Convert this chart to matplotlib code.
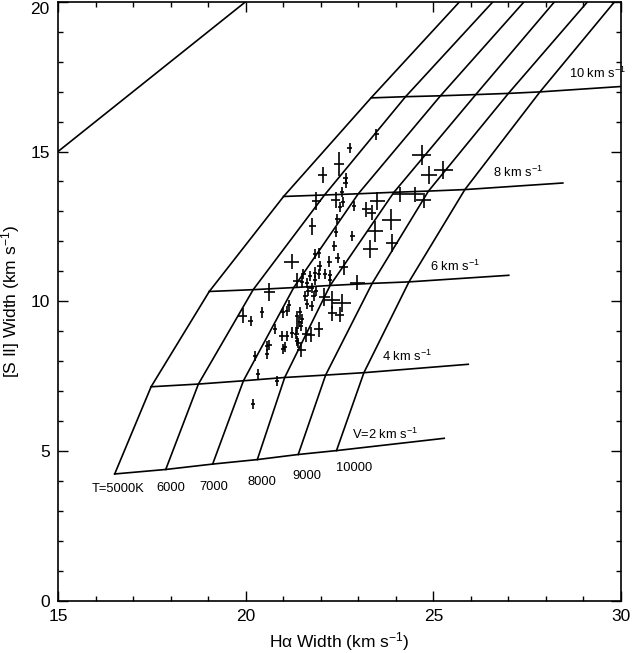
import matplotlib
matplotlib.use("Agg")
import matplotlib.pyplot as plt
import matplotlib.transforms as mtransforms
from matplotlib.ticker import MultipleLocator, FixedLocator

plt.rcParams['font.family'] = ['Liberation Sans', 'DejaVu Sans']
plt.rcParams['mathtext.default'] = 'regular'

# ---- model grid ----
temps = [5000, 6000, 7000, 8000, 9000, 10000]
temp_labels = ["T=5000K", "6000", "7000", "8000", "9000", "10000"]
vel_labels = ["V=2 km s$^{-1}$", "4 km s$^{-1}$", "6 km s$^{-1}$", "8 km s$^{-1}$", "10 km s$^{-1}$"]

ha_v2 = [16.51, 17.87, 19.12, 20.31, 21.40, 22.42]
s2_v2 = [4.24, 4.39, 4.57, 4.72, 4.89, 5.02]
ha_v4 = [17.48, 18.74, 19.94, 21.04, 22.13, 23.15]
s2_v4 = [7.15, 7.24, 7.35, 7.46, 7.54, 7.62]
ha_v6 = [19.03, 20.20, 21.28, 22.25, 23.37, 24.35]
s2_v6 = [10.33, 10.39, 10.46, 10.53, 10.60, 10.65]
ha_v8 = [21.01, 22.10, 23.00, 23.95, 24.87, 25.84]
s2_v8 = [13.50, 13.55, 13.59, 13.64, 13.68, 13.73]
ha_v10 = [23.34, 24.26, 25.19, 26.13, 27.00, 27.84]
s2_v10 = [16.79, 16.83, 16.86, 16.90, 16.94, 16.99]
ha_top = [25.70, 26.59, 27.42, 28.23, 29.11, 29.83]
s2_top = [20.0, 20.0, 20.0, 20.0, 20.0, 20.0]

v_end_ha = [25.29, 25.93, 27.01, 28.45, 30.00]
v_end_s2 = [5.43, 7.90, 10.87, 13.95, 17.17]

# one-to-one line
eq_x = [15, 20]
eq_y = [15, 20]

# ---- label positions ----
temp_lab_x = [16.60, 18.01, 19.16, 20.44, 21.63, 22.88]
temp_lab_y = [3.73, 3.76, 3.80, 3.97, 4.16, 4.44]
vel_lab_x = [22.84, 23.63, 24.92, 26.58, 28.61]
vel_lab_y = [5.55, 8.15, 11.18, 14.32, 17.62]

# ---- observed widths ----
ha_obs = [23.48, 22.77, 22.49, 22.05, 22.66, 22.66, 22.56, 21.88, 22.40, 22.59,
          22.51, 22.89, 23.21, 21.78, 22.44, 22.41, 22.84, 22.36, 24.69, 24.88,
          25.27, 24.12, 24.52, 24.74, 23.51, 23.36, 23.88, 23.45, 23.90, 23.32,
          21.23, 21.85, 21.95, 22.45, 22.23, 21.97, 22.61, 21.54, 21.72, 21.85,
          21.95, 22.11, 22.24, 22.25, 21.85, 21.63, 21.50, 21.37, 22.97, 20.63,
          21.67, 21.76, 21.88, 21.59, 21.81, 22.10, 22.30, 22.56, 21.63, 21.76,
          21.15, 22.30, 22.50, 21.45, 21.37, 21.50, 21.41, 21.47, 21.37, 21.00,
          21.11, 20.43, 19.92, 20.13, 21.95, 20.78, 20.96, 21.09, 21.23, 21.35,
          21.61, 21.74, 21.37, 21.39, 21.00, 21.05, 21.48, 20.57, 20.63, 20.57,
          20.25, 20.33, 20.83, 20.20]
s2_obs = [15.57, 15.12, 14.59, 14.21, 14.12, 13.94, 13.65, 13.34, 13.38, 13.31,
          13.14, 13.17, 13.07, 12.51, 12.76, 12.31, 12.18, 11.85, 14.89, 14.23,
          14.37, 13.57, 13.57, 13.38, 13.34, 12.96, 12.73, 12.34, 11.96, 11.74,
          11.33, 11.57, 11.62, 11.46, 11.33, 11.19, 11.13, 10.90, 10.85, 10.96,
          10.90, 10.90, 10.88, 10.70, 10.70, 10.62, 10.66, 10.68, 10.62, 10.30,
          10.35, 10.45, 10.35, 10.18, 10.18, 10.15, 10.04, 9.96, 9.90, 9.85,
          9.88, 9.60, 9.55, 9.63, 9.52, 9.41, 9.30, 9.18, 9.11, 9.63,
          9.69, 9.63, 9.52, 9.35, 9.07, 9.07, 8.85, 8.85, 8.96, 8.90,
          8.90, 8.88, 8.69, 8.60, 8.41, 8.47, 8.38, 8.52, 8.55, 8.24,
          8.18, 7.58, 7.35, 6.58]
ha_err = [0.06, 0.06, 0.13, 0.12, 0.06, 0.06, 0.06, 0.12, 0.12, 0.06,
          0.06, 0.06, 0.12, 0.10, 0.06, 0.06, 0.06, 0.06, 0.26, 0.22,
          0.25, 0.20, 0.20, 0.20, 0.20, 0.12, 0.26, 0.22, 0.15, 0.20,
          0.20, 0.06, 0.06, 0.06, 0.06, 0.06, 0.12, 0.06, 0.06, 0.06,
          0.06, 0.06, 0.06, 0.06, 0.06, 0.06, 0.06, 0.12, 0.20, 0.15,
          0.06, 0.06, 0.06, 0.06, 0.06, 0.15, 0.20, 0.25, 0.06, 0.06,
          0.06, 0.12, 0.12, 0.06, 0.06, 0.06, 0.06, 0.06, 0.06, 0.06,
          0.06, 0.06, 0.12, 0.06, 0.12, 0.06, 0.06, 0.06, 0.06, 0.06,
          0.12, 0.12, 0.06, 0.06, 0.06, 0.06, 0.12, 0.06, 0.06, 0.06,
          0.06, 0.06, 0.06, 0.06]
s2_err = [0.17, 0.17, 0.40, 0.27, 0.17, 0.17, 0.17, 0.30, 0.28, 0.17,
          0.17, 0.17, 0.25, 0.28, 0.17, 0.17, 0.17, 0.17, 0.34, 0.30,
          0.30, 0.25, 0.25, 0.25, 0.30, 0.25, 0.35, 0.35, 0.30, 0.30,
          0.25, 0.17, 0.17, 0.17, 0.17, 0.17, 0.25, 0.17, 0.17, 0.17,
          0.17, 0.17, 0.17, 0.17, 0.17, 0.17, 0.17, 0.25, 0.25, 0.30,
          0.17, 0.17, 0.17, 0.17, 0.17, 0.30, 0.30, 0.30, 0.17, 0.17,
          0.17, 0.25, 0.25, 0.17, 0.17, 0.17, 0.17, 0.17, 0.17, 0.17,
          0.17, 0.17, 0.25, 0.17, 0.25, 0.17, 0.17, 0.17, 0.17, 0.17,
          0.25, 0.25, 0.17, 0.17, 0.17, 0.17, 0.25, 0.17, 0.17, 0.17,
          0.17, 0.17, 0.17, 0.17]

x_ticks = [15, 20, 25, 30]
y_ticks = [0, 5, 10, 15, 20]

fig = plt.figure(figsize=(6.32, 6.53), dpi=100)
ax = fig.add_axes([0.0918, 0.0796, 0.8908, 0.9178])

lc = 'black'
lw = 1.2
ha_rows = [ha_v2, ha_v4, ha_v6, ha_v8, ha_v10]
s2_rows = [s2_v2, s2_v4, s2_v6, s2_v8, s2_v10]

# constant-T curves
for i in range(len(temps)):
    xs = [row[i] for row in ha_rows] + [ha_top[i]]
    ys = [row[i] for row in s2_rows] + [s2_top[i]]
    ax.plot(xs, ys, color=lc, lw=lw)

# constant-V curves
for j in range(len(ha_rows)):
    xs = list(ha_rows[j]) + [v_end_ha[j]]
    ys = list(s2_rows[j]) + [v_end_s2[j]]
    ax.plot(xs, ys, color=lc, lw=lw)

ax.plot(eq_x, eq_y, color=lc, lw=lw)

ax.errorbar(ha_obs, s2_obs, xerr=ha_err, yerr=s2_err, fmt='none',
            ecolor='black', elinewidth=1.2, capsize=0)

for x, y, t in zip(temp_lab_x, temp_lab_y, temp_labels):
    ax.text(x, y, t, ha='center', va='center', fontsize=9.3)
for x, y, t in zip(vel_lab_x, vel_lab_y, vel_labels):
    ax.text(x, y, t, ha='left', va='center', fontsize=9.3, clip_on=False)

ax.set_xlim(15, 30)
ax.set_ylim(0, 20)
ax.xaxis.set_major_locator(FixedLocator(x_ticks))
ax.xaxis.set_minor_locator(MultipleLocator(1))
ax.yaxis.set_major_locator(FixedLocator(y_ticks))
ax.yaxis.set_minor_locator(MultipleLocator(1))
ax.tick_params(which='both', direction='in', top=True, right=True,
               labelsize=12.5, width=1.0)
ax.tick_params(which='major', length=7, pad=6)
ax.tick_params(which='minor', length=3.5)
for s in ax.spines.values():
    s.set_linewidth(1.2)

# nudge the top y tick label down so it stays inside the figure
top_tick = ax.yaxis.get_major_ticks()[-1]
top_tick.label1.set_transform(top_tick.label1.get_transform() +
                              mtransforms.ScaledTranslation(0, -6 / 100, fig.dpi_scale_trans))

ax.set_xlabel('H\u03b1 Width (km s$^{-1}$)', fontsize=12.5, labelpad=4)
ax.set_ylabel('[S II] Width (km s$^{-1}$)', fontsize=12.5, labelpad=6)

fig.savefig('out.png', dpi=100)
